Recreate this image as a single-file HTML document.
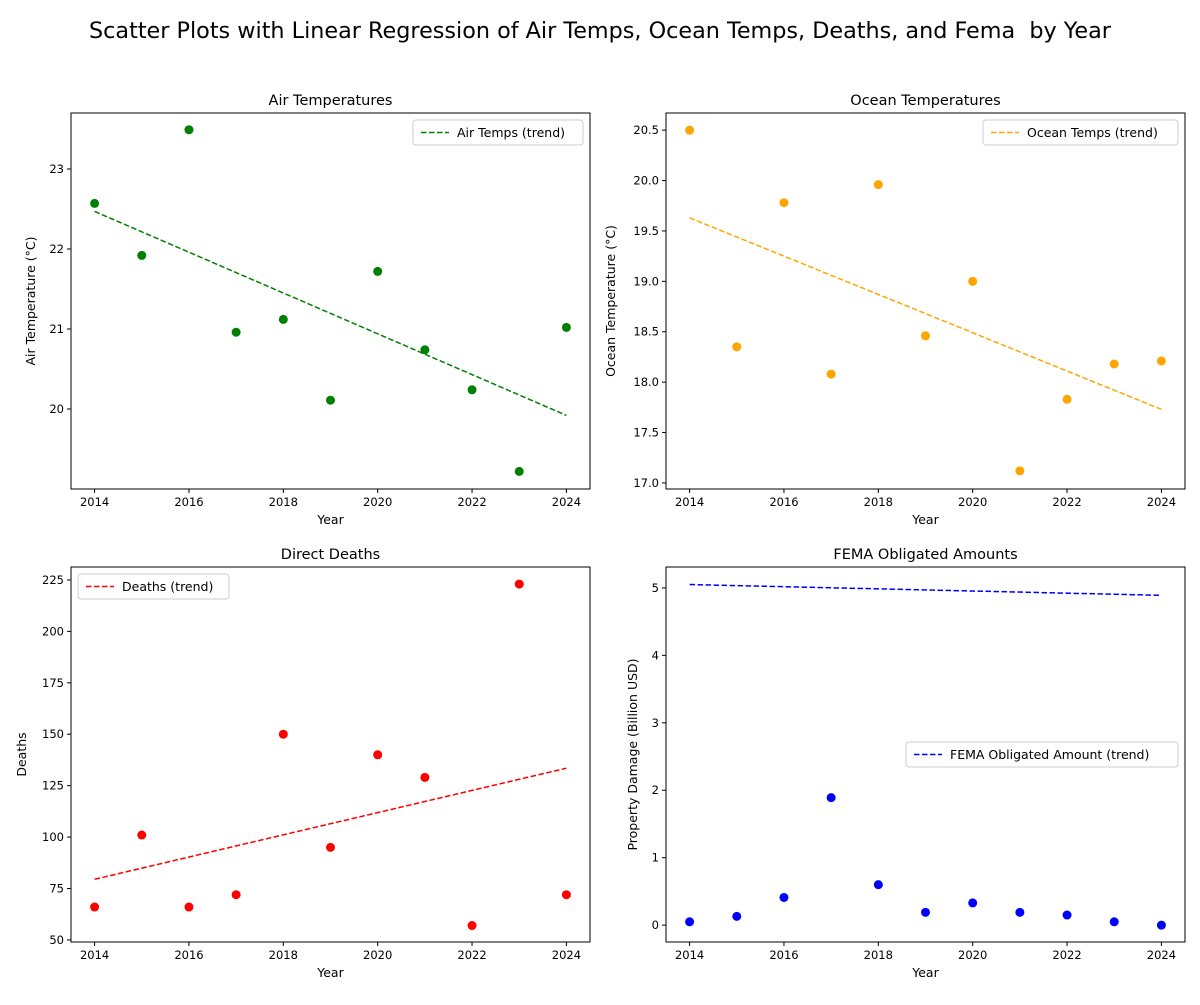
<!DOCTYPE html>
<html><head><meta charset="utf-8"><style>
body{margin:0;background:#fff}
svg{font-family:"DejaVu Sans","Liberation Sans",sans-serif}
</style></head><body>
<svg id="fig" width="1200" height="1000" viewBox="0 0 1200 1000">
<text x="600" y="38" text-anchor="middle" font-size="22.3" style="white-space:pre">Scatter Plots with Linear Regression of Air Temps, Ocean Temps, Deaths, and Fema &#160;by Year</text>
</svg>
<script>
const years=[2014,2015,2016,2017,2018,2019,2020,2021,2022,2023,2024];
const airValues=[22.57,21.92,23.49,20.96,21.12,20.11,21.72,20.74,20.24,19.22,21.02];
const oceanValues=[20.5,18.35,19.78,18.08,19.96,18.46,19.0,17.12,17.83,18.18,18.21];
const deathValues=[66,101,66,72,150,95,140,129,57,223,72];
const femaValues=[0.05,0.13,0.41,1.89,0.6,0.19,0.33,0.19,0.15,0.05,0.0];
const airTrend=[22.47,19.92];
const oceanTrend=[19.63,17.73];
const deathTrend=[79.5,133.5];
const femaTrend=[5.05,4.89];
const xTicks=[2014,2016,2018,2020,2022,2024];
const airTicks=[20,21,22,23];
const oceanTicks=[17.0,17.5,18.0,18.5,19.0,19.5,20.0,20.5];
const deathTicks=[50,75,100,125,150,175,200,225];
const femaTicks=[0,1,2,3,4,5];

const NS="http://www.w3.org/2000/svg";
const fig=document.getElementById('fig');
function mk(tag,attrs,parent){const e=document.createElementNS(NS,tag);for(const k in attrs)e.setAttribute(k,attrs[k]);(parent||fig).appendChild(e);return e;}

function panel(o){
  const g=mk('g',{});
  
  
  const X=v=>o.x0+(v-2013.5)/11*(o.x1-o.x0);
  const Y=v=>o.y1-(v-o.ymin)/(o.ymax-o.ymin)*(o.y1-o.y0);
  o.vals.forEach((v,i)=>{
    const c=mk('circle',{cx:X(years[i]),cy:Y(v),r:4.5,fill:o.color},g);
    
    
  });
  const ln=mk('line',{x1:X(years[0]),y1:Y(o.trend[0]),x2:X(years[years.length-1]),y2:Y(o.trend[1]),stroke:o.color,'stroke-width':1.5,'stroke-dasharray':'5.5,2.5'},g);
  
  
  const fr=mk('rect',{x:o.x0,y:o.y0,width:o.x1-o.x0,height:o.y1-o.y0,fill:'none',stroke:'#000','stroke-width':1},g);
  
  
  xTicks.forEach(t=>{
    mk('line',{x1:X(t),x2:X(t),y1:o.y1,y2:o.y1+4,stroke:'#000'},g);
    const tx=mk('text',{x:X(t),y:o.y1+17,'text-anchor':'middle','font-size':11.5},g);
    tx.textContent=t;
    
    
  });
  o.ticks.forEach(t=>{
    mk('line',{x1:o.x0-4,x2:o.x0,y1:Y(t),y2:Y(t),stroke:'#000'},g);
    const tx=mk('text',{x:o.x0-7,y:Y(t)+4,'text-anchor':'end','font-size':11.5},g);
    tx.textContent=o.fmt?t.toFixed(1):t;
    
    
  });
  const ti=mk('text',{x:(o.x0+o.x1)/2,y:o.y0-8,'text-anchor':'middle','font-size':14.5},g);
  ti.textContent=o.title;
  
  
  const xl=mk('text',{x:(o.x0+o.x1)/2,y:o.y1+35,'text-anchor':'middle','font-size':12.5},g);
  xl.textContent='Year';
  
  
  const yc=(o.y0+o.y1)/2;
  const yl=mk('text',{x:o.ylx,y:yc,'text-anchor':'middle','font-size':12.5,transform:`rotate(-90 ${o.ylx} ${yc})`},g);
  yl.textContent=o.ylabel;
  
  
  const lg=mk('g',{},g);
  
  
  mk('rect',{x:o.lx,y:o.ly,width:o.lw,height:25,rx:3,fill:'#fff',stroke:'#ccc'},lg);
  mk('line',{x1:o.lx+8,x2:o.lx+36,y1:o.ly+12.5,y2:o.ly+12.5,stroke:o.color,'stroke-width':1.5,'stroke-dasharray':'5.5,2.5'},lg);
  const lt=mk('text',{x:o.lx+44,y:o.ly+17,'font-size':12.5},lg);
  lt.textContent=o.legend;
  
  
}
panel({name:'air',x0:71,x1:590,y0:113,y1:489,ymin:19.0,ymax:23.7,vals:airValues,trend:airTrend,ticks:airTicks,color:'green',title:'Air Temperatures',ylabel:'Air Temperature (°C)',ylx:35,legend:'Air Temps (trend)',lx:413,ly:120,lw:170});
panel({name:'ocean',x0:666,x1:1185,y0:113,y1:489,ymin:16.94,ymax:20.67,vals:oceanValues,trend:oceanTrend,ticks:oceanTicks,fmt:true,color:'orange',title:'Ocean Temperatures',ylabel:'Ocean Temperature (°C)',ylx:615,legend:'Ocean Temps (trend)',lx:983,ly:120,lw:195});
panel({name:'deaths',x0:71,x1:590,y0:567,y1:942,ymin:49.0,ymax:231.3,vals:deathValues,trend:deathTrend,ticks:deathTicks,color:'red',title:'Direct Deaths',ylabel:'Deaths',ylx:26,legend:'Deaths (trend)',lx:78,ly:574,lw:151});
panel({name:'fema',x0:666,x1:1185,y0:567,y1:942,ymin:-0.25,ymax:5.31,vals:femaValues,trend:femaTrend,ticks:femaTicks,color:'blue',title:'FEMA Obligated Amounts',ylabel:'Property Damage (Billion USD)',ylx:637,legend:'FEMA Obligated Amount (trend)',lx:906,ly:742,lw:272});
</script>
</body></html>
